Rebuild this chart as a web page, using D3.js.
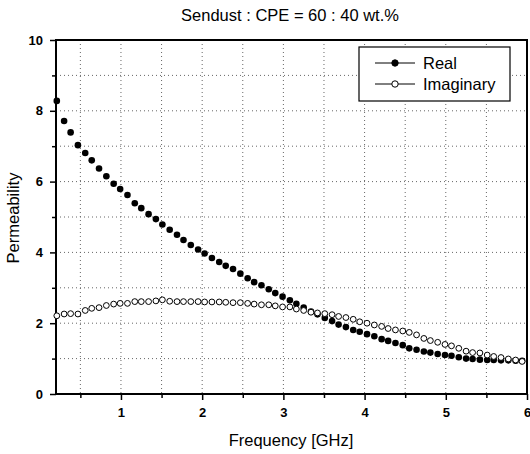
<!DOCTYPE html>
<html>
<head>
<meta charset="utf-8">
<script src="https://cdn.jsdelivr.net/npm/d3@7"></script>
<style>
  body { margin: 0; background: #fff; }
  svg { font-family: "Liberation Sans", Arial, sans-serif; }
</style>
</head>
<body>
<div id="chart"></div>
<script>
// frequency points (GHz)
const freq = [0.21, 0.30, 0.38, 0.47, 0.56, 0.64, 0.73, 0.82, 0.91, 0.99,
  1.08, 1.17, 1.25, 1.34, 1.43, 1.51, 1.60, 1.69, 1.77, 1.86,
  1.95, 2.03, 2.12, 2.21, 2.29, 2.38, 2.47, 2.56, 2.64, 2.73,
  2.82, 2.90, 2.99, 3.08, 3.16, 3.25, 3.34, 3.42, 3.51, 3.60,
  3.68, 3.77, 3.86, 3.94, 4.03, 4.12, 4.21, 4.29, 4.38, 4.47,
  4.55, 4.64, 4.73, 4.81, 4.90, 4.99, 5.07, 5.16, 5.25, 5.33,
  5.42, 5.51, 5.59, 5.68, 5.77, 5.86, 5.94];

const realVals = [8.28, 7.71, 7.39, 7.03, 6.81, 6.60, 6.37, 6.15, 5.94, 5.79,
  5.62, 5.39, 5.25, 5.08, 4.94, 4.79, 4.64, 4.50, 4.35, 4.21,
  4.08, 3.97, 3.84, 3.73, 3.62, 3.53, 3.40, 3.27, 3.16, 3.07,
  2.96, 2.85, 2.75, 2.65, 2.55, 2.44, 2.33, 2.25, 2.15, 2.06,
  1.96, 1.89, 1.81, 1.76, 1.69, 1.63, 1.55, 1.50, 1.44, 1.38,
  1.29, 1.25, 1.20, 1.17, 1.13, 1.10, 1.08, 1.04, 1.00, 0.99,
  0.97, 0.96, 0.96, 0.95, 0.95, 0.94, 0.94];

const imagVals = [2.21, 2.26, 2.27, 2.26, 2.36, 2.42, 2.44, 2.50, 2.54, 2.56,
  2.56, 2.61, 2.61, 2.61, 2.63, 2.66, 2.62, 2.61, 2.61, 2.61,
  2.61, 2.60, 2.60, 2.60, 2.59, 2.58, 2.58, 2.56, 2.54, 2.52,
  2.52, 2.49, 2.46, 2.46, 2.40, 2.36, 2.31, 2.29, 2.27, 2.24,
  2.19, 2.16, 2.11, 2.04, 2.00, 1.95, 1.91, 1.85, 1.81, 1.78,
  1.74, 1.67, 1.57, 1.51, 1.46, 1.40, 1.36, 1.29, 1.21, 1.17,
  1.16, 1.10, 1.06, 1.03, 0.99, 0.96, 0.92];

const xMajor = [1, 2, 3, 4, 5, 6];
const xMinor = [0.5, 1.5, 2.5, 3.5, 4.5, 5.5];
const yMajor = [0, 2, 4, 6, 8, 10];
const yMinor = [1, 3, 5, 7, 9];
const seriesNames = ["Real", "Imaginary"];

const W = 530, H = 454;
const plot = { left: 56, right: 527, top: 40, bottom: 394 };

const svg = d3.select("#chart").append("svg")
  .attr("width", W).attr("height", H);

const x = d3.scaleLinear().domain([0.2, 6]).range([plot.left, plot.right]);
const y = d3.scaleLinear().domain([0, 10]).range([plot.bottom, plot.top]);

// dotted grid
const grid = svg.append("g").attr("stroke", "#666").attr("stroke-width", 1)
  .attr("stroke-dasharray", "1,3");
xMajor.concat(xMinor).filter(v => v < 6).forEach(v => {
  grid.append("line").attr("x1", x(v)).attr("x2", x(v)).attr("y1", plot.top).attr("y2", plot.bottom);
});
yMajor.concat(yMinor).filter(v => v > 0 && v < 10).forEach(v => {
  grid.append("line").attr("x1", plot.left).attr("x2", plot.right).attr("y1", y(v)).attr("y2", y(v));
});

// axes
const xAxis = svg.append("g").attr("transform", `translate(0,${plot.bottom})`)
  .call(d3.axisBottom(x).tickValues(xMajor).tickSize(6).tickSizeOuter(0).tickFormat(d3.format("d")));
const xAxisMinor = svg.append("g").attr("transform", `translate(0,${plot.bottom})`)
  .call(d3.axisBottom(x).tickValues(xMinor).tickSize(4).tickSizeOuter(0).tickFormat(""));
const yAxis = svg.append("g").attr("transform", `translate(${plot.left},0)`)
  .call(d3.axisLeft(y).tickValues(yMajor).tickSize(6).tickPadding(7).tickSizeOuter(0).tickFormat(d3.format("d")));
const yAxisMinor = svg.append("g").attr("transform", `translate(${plot.left},0)`)
  .call(d3.axisLeft(y).tickValues(yMinor).tickSize(4).tickSizeOuter(0).tickFormat(""));

[xAxis, xAxisMinor, yAxis, yAxisMinor].forEach(g => {
  g.select(".domain").remove();
  g.selectAll(".tick line").attr("stroke", "#000").attr("stroke-width", 1.5);
  g.selectAll(".tick text").attr("fill", "#000").style("font-size", "13px").style("font-weight", "bold");
});
xAxis.selectAll(".tick text").attr("dy", "1.05em");

// frame
svg.append("rect").attr("x", plot.left).attr("y", plot.top)
  .attr("width", plot.right - plot.left).attr("height", plot.bottom - plot.top)
  .attr("fill", "none").attr("stroke", "#000").attr("stroke-width", 2);

// data
const realData = freq.map((f, i) => ({ f: f, v: realVals[i] }));
const imagData = freq.map((f, i) => ({ f: f, v: imagVals[i] }));

svg.selectAll(".real").data(realData).enter().append("circle")
  .attr("class", "real")
  .attr("cx", d => x(d.f)).attr("cy", d => y(d.v)).attr("r", 3.3)
  .attr("fill", "#000");

svg.selectAll(".imag").data(imagData).enter().append("circle")
  .attr("class", "imag")
  .attr("cx", d => x(d.f)).attr("cy", d => y(d.v)).attr("r", 2.9)
  .attr("fill", "#fff").attr("stroke", "#000").attr("stroke-width", 1);

// legend
const lg = svg.append("g").attr("transform", "translate(359,47)");
lg.append("rect").attr("width", 151).attr("height", 54)
  .attr("fill", "#fff").attr("stroke", "#000").attr("stroke-width", 1.2);
seriesNames.forEach((name, i) => {
  const yy = 16 + i * 21;
  lg.append("line").attr("x1", 16).attr("x2", 56).attr("y1", yy).attr("y2", yy)
    .attr("stroke", "#000").attr("stroke-width", 1);
  lg.append("circle").attr("cx", 36).attr("cy", yy).attr("r", 3.2)
    .attr("fill", i === 0 ? "#000" : "#fff").attr("stroke", "#000").attr("stroke-width", 1);
  lg.append("text").attr("x", 64).attr("y", yy + 5.5).text(name).style("font-size", "16.5px");
});

// titles
svg.append("text").attr("x", 290).attr("y", 21).attr("text-anchor", "middle")
  .style("font-size", "16.5px").text("Sendust : CPE = 60 : 40 wt.%");
svg.append("text").attr("x", 291).attr("y", 446).attr("text-anchor", "middle")
  .style("font-size", "16.5px").text("Frequency [GHz]");
svg.append("text").attr("transform", "translate(19,218) rotate(-90)").attr("text-anchor", "middle")
  .style("font-size", "16.5px").text("Permeability");
</script>
</body>
</html>
